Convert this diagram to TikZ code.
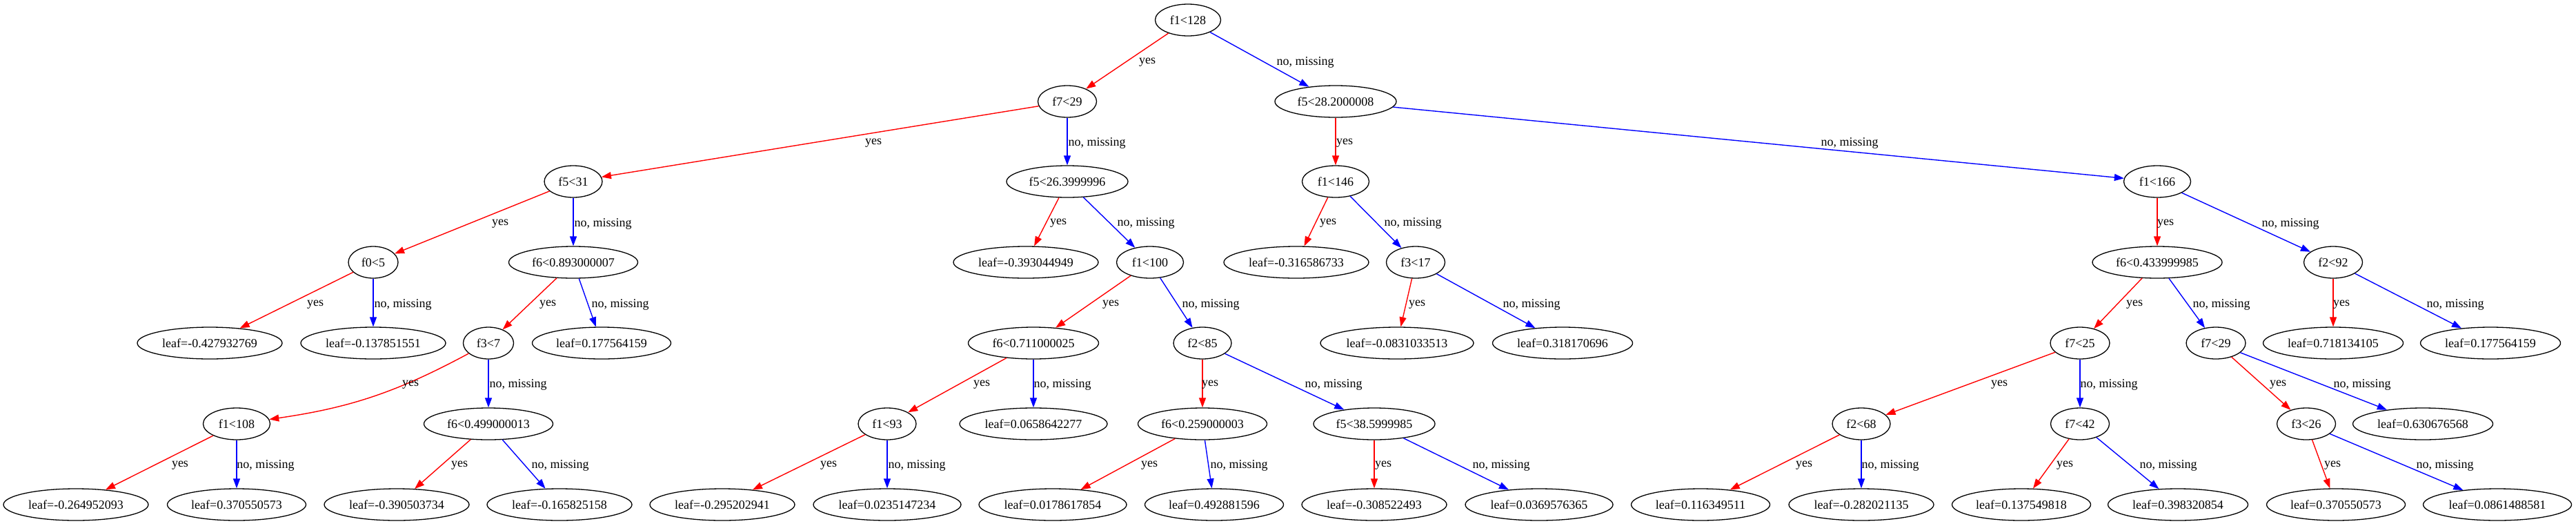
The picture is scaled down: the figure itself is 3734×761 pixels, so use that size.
\documentclass[tikz,border=0pt]{standalone}
\usepackage{fontspec}
\setmainfont{Liberation Serif}
\usetikzlibrary{shapes.geometric,arrows.meta}
\newcommand{\tfs}{\fontsize{18}{20}\selectfont}
\tikzset{
  tn/.style={draw=black, ellipse, line width=1.3pt, inner sep=0pt, minimum height=46pt, font=\tfs},
  lbl/.style={font=\tfs, inner sep=0pt},
  yesE/.style={draw=red, line width=1.4pt, -{Triangle[length=14pt,width=10pt]}},
  noE/.style={draw=blue, line width=1.4pt, -{Triangle[length=14pt,width=10pt]}}
}
\begin{document}
\begin{tikzpicture}[x=1pt,y=-1pt]
\useasboundingbox[fill=white] (0,0) rectangle (3734,761);
% level 0
\node[tn, minimum width=95pt] (n0) at (1722,29) {f1<128};
% level 1
\node[tn, minimum width=85pt] (n1) at (1547,147) {f7<29};
\node[tn, minimum width=176pt] (n2) at (1936,147) {f5<28.2000008};
% level 2
\node[tn, minimum width=84pt] (n3) at (831,263) {f5<31};
\node[tn, minimum width=176pt] (n4) at (1547,263) {f5<26.3999996};
\node[tn, minimum width=97pt] (n5) at (1936,263) {f1<146};
\node[tn, minimum width=97pt] (n6) at (3127,263) {f1<166};
% level 3
\node[tn, minimum width=72pt] (n7) at (541,380) {f0<5};
\node[tn, minimum width=187pt] (n8) at (831,380) {f6<0.893000007};
\node[tn, minimum width=210pt] (n9) at (1487,380) {leaf=-0.393044949};
\node[tn, minimum width=97pt] (n10) at (1667,380) {f1<100};
\node[tn, minimum width=210pt] (n11) at (1879,380) {leaf=-0.316586733};
\node[tn, minimum width=85pt] (n12) at (2052,380) {f3<17};
\node[tn, minimum width=188pt] (n13) at (3127,380) {f6<0.433999985};
\node[tn, minimum width=85pt] (n14) at (3382,380) {f2<92};
% level 4
\node[tn, minimum width=210pt] (n15) at (304,497) {leaf=-0.427932769};
\node[tn, minimum width=210pt] (n16) at (541,497) {leaf=-0.137851551};
\node[tn, minimum width=73pt] (n17) at (708,497) {f3<7};
\node[tn, minimum width=201pt] (n18) at (872,497) {leaf=0.177564159};
\node[tn, minimum width=189pt] (n19) at (1498,497) {f6<0.711000025};
\node[tn, minimum width=84pt] (n20) at (1743,497) {f2<85};
\node[tn, minimum width=222pt] (n21) at (2025,497) {leaf=-0.0831033513};
\node[tn, minimum width=203pt] (n22) at (2265,497) {leaf=0.318170696};
\node[tn, minimum width=86pt] (n23) at (3015,497) {f7<25};
\node[tn, minimum width=86pt] (n24) at (3212,497) {f7<29};
\node[tn, minimum width=203pt] (n25) at (3382,497) {leaf=0.718134105};
\node[tn, minimum width=203pt] (n26) at (3610,497) {leaf=0.177564159};
% level 5
\node[tn, minimum width=97pt] (n27) at (343,614) {f1<108};
\node[tn, minimum width=187pt] (n28) at (708,614) {f6<0.499000013};
\node[tn, minimum width=84pt] (n29) at (1286,614) {f1<93};
\node[tn, minimum width=214pt] (n30) at (1498,614) {leaf=0.0658642277};
\node[tn, minimum width=187pt] (n31) at (1743,614) {f6<0.259000003};
\node[tn, minimum width=176pt] (n32) at (1992,614) {f5<38.5999985};
\node[tn, minimum width=84pt] (n33) at (2698,614) {f2<68};
\node[tn, minimum width=85pt] (n34) at (3015,614) {f7<42};
\node[tn, minimum width=85pt] (n35) at (3343,614) {f3<26};
\node[tn, minimum width=203pt] (n36) at (3512,614) {leaf=0.630676568};
% level 6
\node[tn, minimum width=210pt] (n37) at (110,731) {leaf=-0.264952093};
\node[tn, minimum width=201pt] (n38) at (343,731) {leaf=0.370550573};
\node[tn, minimum width=210pt] (n39) at (575,731) {leaf=-0.390503734};
\node[tn, minimum width=210pt] (n40) at (811,731) {leaf=-0.165825158};
\node[tn, minimum width=210pt] (n41) at (1047,731) {leaf=-0.295202941};
\node[tn, minimum width=214pt] (n42) at (1286,731) {leaf=0.0235147234};
\node[tn, minimum width=214pt] (n43) at (1526,731) {leaf=0.0178617854};
\node[tn, minimum width=201pt] (n44) at (1760,731) {leaf=0.492881596};
\node[tn, minimum width=210pt] (n45) at (1992,731) {leaf=-0.308522493};
\node[tn, minimum width=214pt] (n46) at (2231,731) {leaf=0.0369576365};
\node[tn, minimum width=201pt] (n47) at (2465,731) {leaf=0.116349511};
\node[tn, minimum width=210pt] (n48) at (2698,731) {leaf=-0.282021135};
\node[tn, minimum width=201pt] (n49) at (2930,731) {leaf=0.137549818};
\node[tn, minimum width=203pt] (n50) at (3157,731) {leaf=0.398320854};
\node[tn, minimum width=201pt] (n51) at (3386,731) {leaf=0.370550573};
\node[tn, minimum width=215pt] (n52) at (3620,731) {leaf=0.0861488581};
% edges
\draw[yesE] (n0) -- (n1);  \node[lbl] (e1) at (1663,90) {yes};
\draw[noE]  (n0) -- (n2);  \node[lbl] (e2) at (1892,90) {no, missing};
\draw[yesE] (n1) -- (n3);  \node[lbl] (e3) at (1266,207) {yes};
\draw[noE]  (n1) -- (n4);  \node[lbl] (e4) at (1590,207) {no, missing};
\draw[yesE] (n2) -- (n5);  \node[lbl] (e5) at (1949,207) {yes};
\draw[noE]  (n2) -- (n6);  \node[lbl] (e6) at (2681,207) {no, missing};
\draw[yesE] (n3) -- (n7);  \node[lbl] (e7) at (725,324) {yes};
\draw[noE]  (n3) -- (n8);  \node[lbl] (e8) at (874,324) {no, missing};
\draw[yesE] (n4) -- (n9);  \node[lbl] (e9) at (1534,323) {yes};
\draw[noE]  (n4) -- (n10); \node[lbl] (e10) at (1661,323) {no, missing};
\draw[yesE] (n5) -- (n11); \node[lbl] (e11) at (1925,323) {yes};
\draw[noE]  (n5) -- (n12); \node[lbl] (e12) at (2048,323) {no, missing};
\draw[yesE] (n6) -- (n13); \node[lbl] (e13) at (3139,324) {yes};
\draw[noE]  (n6) -- (n14); \node[lbl] (e14) at (3320,324) {no, missing};
\draw[yesE] (n7) -- (n15); \node[lbl] (e15) at (457,441) {yes};
\draw[noE]  (n7) -- (n16); \node[lbl] (e16) at (584,441) {no, missing};
\draw[yesE] (n8) -- (n17); \node[lbl] (e17) at (794,441) {yes};
\draw[noE]  (n8) -- (n18); \node[lbl] (e18) at (899,441) {no, missing};
\draw[yesE] (n10) -- (n19); \node[lbl] (e19) at (1610,441) {yes};
\draw[noE]  (n10) -- (n20); \node[lbl] (e20) at (1755,441) {no, missing};
\draw[yesE] (n12) -- (n21); \node[lbl] (e21) at (2054,441) {yes};
\draw[noE]  (n12) -- (n22); \node[lbl] (e22) at (2220,441) {no, missing};
\draw[yesE] (n13) -- (n23); \node[lbl] (e23) at (3094,441) {yes};
\draw[noE]  (n13) -- (n24); \node[lbl] (e24) at (3220,441) {no, missing};
\draw[yesE] (n14) -- (n25); \node[lbl] (e25) at (3394,441) {yes};
\draw[noE]  (n14) -- (n26); \node[lbl] (e26) at (3559,441) {no, missing};
\draw[yesE] (n17) to[bend left=10] (n27); \node[lbl] (e27) at (595,557) {yes};
\draw[noE]  (n17) -- (n28); \node[lbl] (e28) at (751,557) {no, missing};
\draw[yesE] (n19) -- (n29); \node[lbl] (e29) at (1423,557) {yes};
\draw[noE]  (n19) -- (n30); \node[lbl] (e30) at (1540,557) {no, missing};
\draw[yesE] (n20) -- (n31); \node[lbl] (e31) at (1754,557) {yes};
\draw[noE]  (n20) -- (n32); \node[lbl] (e32) at (1933,557) {no, missing};
\draw[yesE] (n23) -- (n33); \node[lbl] (e33) at (2898,557) {yes};
\draw[noE]  (n23) -- (n34); \node[lbl] (e34) at (3057,557) {no, missing};
\draw[yesE] (n24) -- (n35); \node[lbl] (e35) at (3302,557) {yes};
\draw[noE]  (n24) -- (n36); \node[lbl] (e36) at (3424,557) {no, missing};
\draw[yesE] (n27) -- (n37); \node[lbl] (e37) at (261,674) {yes};
\draw[noE]  (n27) -- (n38); \node[lbl] (e38) at (385,674) {no, missing};
\draw[yesE] (n28) -- (n39); \node[lbl] (e39) at (666,674) {yes};
\draw[noE]  (n28) -- (n40); \node[lbl] (e40) at (812,674) {no, missing};
\draw[yesE] (n29) -- (n41); \node[lbl] (e41) at (1201,674) {yes};
\draw[noE]  (n29) -- (n42); \node[lbl] (e42) at (1329,674) {no, missing};
\draw[yesE] (n31) -- (n43); \node[lbl] (e43) at (1666,674) {yes};
\draw[noE]  (n31) -- (n44); \node[lbl] (e44) at (1796,674) {no, missing};
\draw[yesE] (n32) -- (n45); \node[lbl] (e45) at (2005,674) {yes};
\draw[noE]  (n32) -- (n46); \node[lbl] (e46) at (2176,674) {no, missing};
\draw[yesE] (n33) -- (n47); \node[lbl] (e47) at (2615,674) {yes};
\draw[noE]  (n33) -- (n48); \node[lbl] (e48) at (2740,674) {no, missing};
\draw[yesE] (n34) -- (n49); \node[lbl] (e49) at (2993,674) {yes};
\draw[noE]  (n34) -- (n50); \node[lbl] (e50) at (3143,674) {no, missing};
\draw[yesE] (n35) -- (n51); \node[lbl] (e51) at (3381,674) {yes};
\draw[noE]  (n35) -- (n52); \node[lbl] (e52) at (3544,674) {no, missing};
\end{tikzpicture}
\end{document}
